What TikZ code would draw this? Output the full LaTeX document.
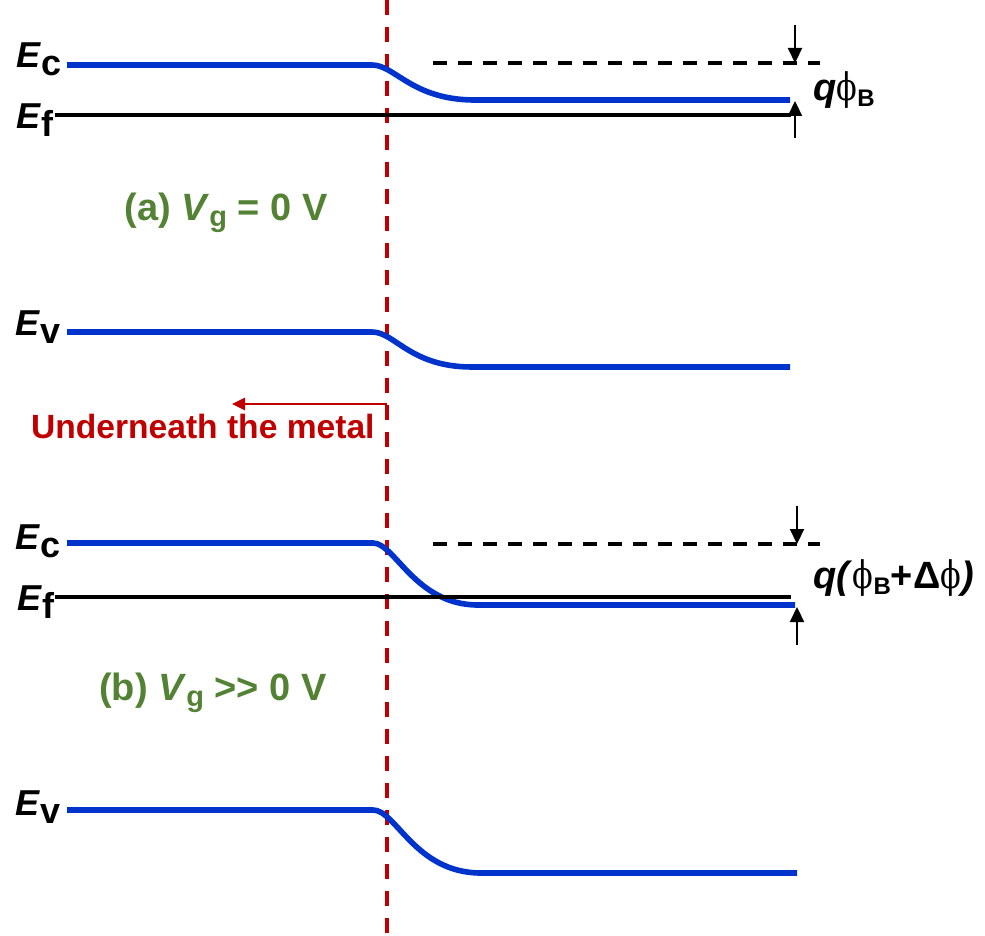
\documentclass[tikz,border=0pt]{standalone}
\usepackage{fontspec}
\usepackage{graphicx}
\setmainfont{Liberation Sans}
\newfontfamily\phifont{DejaVu Serif}
\usetikzlibrary{arrows.meta}
\definecolor{bandblue}{RGB}{0,51,204}
\definecolor{metalred}{RGB}{192,0,0}
\definecolor{vgreen}{RGB}{84,130,53}
\newcommand{\lvl}[2]{\textbf{\textit{#1}}\raisebox{-4pt}{\textbf{#2}}}
\newcommand{\phisym}{\scalebox{0.8}[1]{\phifont ϕ}}
\newcommand{\phiB}{\phisym\raisebox{-3pt}{\fontsize{12}{12}\selectfont\bfseries B}}
\newcommand{\Vg}{\textit{V}\raisebox{-3pt}{\fontsize{14.5}{14.5}\selectfont g}}

\begin{document}
\begin{tikzpicture}[x=0.5pt, y=-0.5pt, every node/.style={inner sep=0pt},
  band/.style={bandblue, line width=2.8pt},
  fermi/.style={black, line width=2.2pt},
  edge/.style={black, line width=1.8pt, dash pattern=on 7pt off 5.5pt},
  lvllbl/.style={anchor=east, font=\fontsize{18}{21}\selectfont},
  gaplbl/.style={anchor=west, font=\fontsize{19}{23}\selectfont},
  gaparrow/.style={-{Triangle[width=7pt,length=7.5pt]}, line width=1.1pt},
  caselbl/.style={text=vgreen, font=\fontsize{19}{22}\selectfont\bfseries}]
\useasboundingbox (0,0) rectangle (985,936);

% metal / semiconductor boundary
\coordinate (mtop) at (387,0);
\coordinate (mbot) at (387,936);
\draw[metalred, line width=1.7pt, dash pattern=on 7.5pt off 6pt] (mtop) -- (mbot);

% (a) Vg = 0 V
\node[lvllbl] (eca) at (62,59) {\lvl{E}{c}};
\node[lvllbl] (efa) at (54,120) {\lvl{E}{f}};
\node[lvllbl] (eva) at (61,327) {\lvl{E}{v}};
\draw[band] (67,65) -- (372,65) .. controls (395,65) and (412,100) .. (475,100) -- (790,100);
\draw[fermi] (55,115) -- (791,115);
\draw[band] (67,332) -- (372,332) .. controls (395,332) and (410,367) .. (472,367) -- (790,367);
\draw[edge] (433,63) -- (820,63);
\coordinate (ta1) at (795,25);
\coordinate (ta2) at (795,63);
\coordinate (ba1) at (795,138);
\coordinate (ba2) at (795,101);
\draw[gaparrow] (ta1) -- (ta2);
\draw[gaparrow] (ba1) -- (ba2);
\node[gaplbl] (qa) at (813,90) {\textbf{\textit{q}}\phiB};
\node[caselbl] (casea) at (226,213) {(a) \Vg{} = 0 V};

% underneath the metal
\coordinate (ua) at (387,404);
\coordinate (ub) at (232,404);
\draw[metalred, line width=1.3pt, -{Triangle[width=6pt,length=6.5pt]}] (ua) -- (ub);
\node[anchor=base east, text=metalred, font=\fontsize{16.8}{20}\selectfont\bfseries] (under) at (375,438) {Underneath the metal};

% (b) Vg >> 0 V
\node[lvllbl] (ecb) at (61,541) {\lvl{E}{c}};
\node[lvllbl] (efb) at (55,602) {\lvl{E}{f}};
\node[lvllbl] (evb) at (61,807) {\lvl{E}{v}};
\draw[band] (67,543) -- (373,543) .. controls (395,543) and (415,605) .. (478,605) -- (795,605);
\draw[fermi] (55,597) -- (791,597);
\draw[band] (67,810) -- (373,810) .. controls (396,810) and (415,873) .. (481,873) -- (797,873);
\draw[edge] (433,544) -- (820,544);
\coordinate (tb1) at (797,506);
\coordinate (tb2) at (797,544);
\coordinate (bb1) at (797,645);
\coordinate (bb2) at (797,607);
\draw[gaparrow] (tb1) -- (tb2);
\draw[gaparrow] (bb1) -- (bb2);
\node[gaplbl] (qb) at (813,578) {\textbf{\textit{q(}}\phiB\textbf{+Δ}\phisym\textbf{\textit{)}}};
\node[caselbl] (caseb) at (213,693) {(b) \Vg{} >{}> 0 V};
\end{tikzpicture}
\end{document}
